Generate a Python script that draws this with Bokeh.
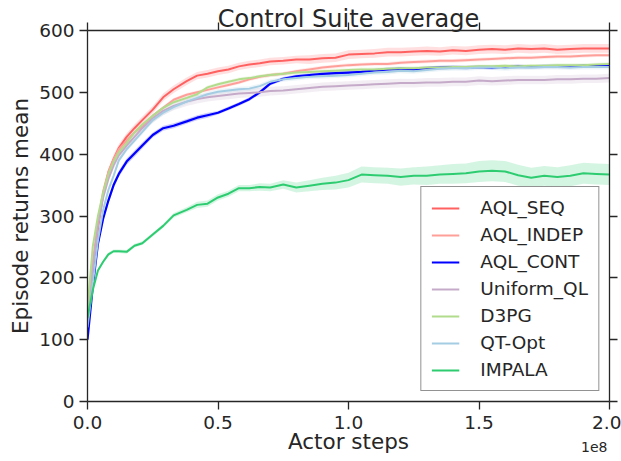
from bokeh.plotting import figure
from bokeh.models import (Range1d, LinearAxis, FixedTicker, Legend, LegendItem, Title,
                          CustomJSTickFormatter)
from bokeh.embed import file_html
from bokeh.resources import INLINE

# Actor steps (in units of 1e8)
steps = [0.0, 0.02, 0.04, 0.06, 0.08, 0.10, 0.12, 0.15, 0.18, 0.21, 0.25, 0.29, 0.33, 0.38,
         0.42, 0.46, 0.50, 0.54, 0.58, 0.62, 0.66, 0.70, 0.75, 0.80, 0.85, 0.90, 0.95, 1.00,
         1.05, 1.10, 1.15, 1.20, 1.25, 1.30, 1.35, 1.40, 1.45, 1.50, 1.55, 1.60, 1.65, 1.70,
         1.75, 1.80, 1.85, 1.90, 1.95, 2.00]

aql_seq = [130, 210, 280, 335, 370, 392, 410, 428, 442, 455, 472, 492, 505, 518,
           527, 530, 534, 537, 542, 545, 547, 550, 551, 553, 553, 555, 556, 561,
           562, 563, 565, 565, 566, 567, 566, 568, 567, 569, 570, 569, 571, 570,
           571, 569, 570, 571, 571, 571]
aql_seq_sd = [4, 6, 7, 7, 7, 7, 6, 6, 6, 6, 6, 6, 6, 6,
              6, 6, 6, 6, 6, 6, 6, 6, 6, 6, 7, 7, 7, 7,
              7, 7, 7, 7, 7, 7, 7, 7, 7, 7, 7, 7, 7, 7,
              7, 7, 7, 7, 7, 7]

aql_indep = [140, 225, 290, 340, 372, 392, 408, 422, 435, 445, 462, 475, 488, 496,
             500, 504, 508, 512, 516, 521, 525, 528, 530, 534, 537, 540, 542, 544,
             545, 546, 546, 548, 549, 550, 551, 551, 552, 553, 554, 555, 556, 556,
             557, 558, 558, 559, 560, 560]
aql_indep_sd = [3, 4, 4, 4, 4, 3, 3, 3, 3, 3, 3, 3, 3, 3,
                3, 3, 3, 3, 3, 3, 3, 3, 3, 3, 3, 3, 3, 3,
                3, 3, 3, 3, 3, 3, 3, 3, 3, 3, 3, 3, 3, 3,
                3, 3, 3, 3, 3, 3]

aql_cont = [100, 185, 255, 296, 325, 350, 368, 388, 401, 414, 431, 442, 446, 453,
            459, 463, 467, 474, 481, 489, 500, 514, 522, 526, 528, 530, 531, 532,
            533, 535, 537, 538, 537, 539, 540, 541, 540, 541, 540, 541, 542, 541,
            542, 542, 542, 543, 543, 543]
aql_cont_sd = [5, 6, 6, 6, 6, 5, 5, 5, 5, 5, 4, 4, 4, 4,
               4, 4, 3, 3, 3, 3, 3, 3, 3, 3, 3, 3, 3, 3,
               3, 3, 3, 3, 3, 3, 3, 3, 3, 3, 3, 3, 3, 3,
               3, 3, 3, 3, 3, 3]

uniform_ql = [125, 215, 285, 330, 360, 382, 398, 414, 428, 442, 458, 470, 478, 485,
              489, 492, 494, 496, 498, 499, 500, 502, 503, 505, 507, 509, 510, 511,
              512, 513, 514, 515, 515, 516, 516, 517, 517, 519, 518, 519, 520, 520,
              520, 521, 521, 522, 522, 523]
uniform_ql_sd = [5, 6, 6, 6, 6, 6, 6, 6, 6, 6, 7, 7, 7, 7,
                 7, 7, 7, 7, 7, 7, 7, 7, 7, 7, 7, 7, 7, 7,
                 7, 7, 7, 7, 7, 7, 7, 7, 7, 7, 7, 7, 7, 7,
                 7, 7, 7, 7, 7, 7]

d3pg = [150, 250, 300, 338, 368, 388, 403, 418, 435, 448, 462, 475, 484, 491,
        497, 508, 513, 517, 521, 523, 526, 528, 530, 532, 533, 534, 535, 536,
        537, 537, 538, 539, 539, 540, 540, 541, 541, 542, 542, 543, 542, 543,
        543, 544, 544, 544, 545, 546]
d3pg_sd = [3, 4, 4, 4, 3, 3, 3, 3, 3, 3, 3, 3, 3, 3,
           3, 3, 3, 3, 3, 3, 3, 3, 3, 3, 3, 3, 3, 3,
           3, 3, 3, 3, 3, 3, 3, 3, 3, 3, 3, 3, 3, 3,
           3, 3, 3, 3, 3, 3]

qt_opt = [120, 190, 260, 310, 342, 365, 390, 408, 422, 436, 455, 467, 476, 485,
          491, 497, 501, 503, 505, 506, 510, 517, 521, 523, 525, 526, 527, 528,
          530, 532, 533, 535, 534, 536, 538, 539, 539, 540, 540, 539, 540, 540,
          541, 541, 540, 541, 541, 541]
qt_opt_sd = [4, 5, 5, 5, 5, 4, 4, 4, 4, 4, 4, 4, 4, 4,
             4, 4, 4, 4, 4, 4, 4, 4, 4, 4, 4, 4, 4, 4,
             4, 4, 4, 4, 4, 4, 4, 4, 4, 4, 4, 4, 4, 4,
             4, 4, 4, 4, 4, 4]

impala = [135, 180, 212, 226, 238, 243, 243, 242, 252, 256, 270, 284, 301, 310,
          318, 320, 330, 336, 345, 345, 347, 346, 351, 346, 349, 352, 354, 358,
          367, 366, 365, 363, 365, 365, 367, 368, 369, 372, 373, 372, 366, 362,
          365, 363, 365, 369, 368, 367]
impala_sd = [3, 3, 3, 3, 3, 3, 3, 3, 3, 3, 3, 3, 4, 4,
             5, 5, 5, 5, 5, 5, 6, 6, 7, 8, 9, 10, 11, 12,
             13, 13, 13, 14, 14, 15, 15, 16, 16, 17, 17, 17, 17, 16,
             16, 16, 17, 17, 17, 17]

series_names = ["AQL_SEQ", "AQL_INDEP", "AQL_CONT", "Uniform_QL", "D3PG", "QT-Opt", "IMPALA"]
series_colors = ["#ff6161", "#ff9f9a", "#0000ff", "#c5abc9", "#b1dc8c", "#a4cde3", "#2ecc71"]
series_means = [aql_seq, aql_indep, aql_cont, uniform_ql, d3pg, qt_opt, impala]
series_sds = [aql_seq_sd, aql_indep_sd, aql_cont_sd, uniform_ql_sd, d3pg_sd, qt_opt_sd, impala_sd]

x_ticks = [0.0, 0.5, 1.0, 1.5, 2.0]
y_ticks = [0, 100, 200, 300, 400, 500, 600]

FONT = "DejaVu Sans"
INK = "#262626"

p = figure(width=621, height=461, output_backend="svg", toolbar_location=None,
           x_range=Range1d(0, 2.0), y_range=Range1d(0, 600),
           min_border_left=87, min_border_right=12, min_border_top=30, min_border_bottom=60)
p.xgrid.visible = False
p.ygrid.visible = False
p.outline_line_color = None
p.background_fill_color = "white"
p.border_fill_color = "white"

renderers = []
for name, col, m, sd in zip(series_names, series_colors, series_means, series_sds):
    lo = [a - b for a, b in zip(m, sd)]
    hi = [a + b for a, b in zip(m, sd)]
    p.varea(x=steps, y1=lo, y2=hi, fill_color=col, fill_alpha=0.2)
for name, col, m in zip(series_names, series_colors, series_means):
    r = p.line(steps, m, line_color=col, line_width=2.2 if name == "AQL_CONT" else 2.0)
    renderers.append(r)

def style_axis(ax, ticks, labels=True):
    ax.ticker = FixedTicker(ticks=ticks)
    ax.axis_line_color = INK
    ax.axis_line_width = 1.3
    ax.major_tick_line_color = INK
    ax.major_tick_line_width = 1.3
    ax.major_tick_out = 8
    ax.major_tick_in = 0
    ax.minor_tick_out = 0
    ax.minor_tick_in = 0
    ax.major_label_text_font = FONT
    ax.major_label_text_color = INK
    ax.axis_label_text_font = FONT
    ax.axis_label_text_color = INK
    ax.axis_label_text_font_style = "normal"
    if labels:
        ax.major_label_text_font_size = "18.5px"
        ax.major_label_standoff = 5
    else:
        ax.formatter = CustomJSTickFormatter(code="return '';")
        ax.major_label_text_font_size = "0px"
        ax.major_label_standoff = 0

# bottom axis
xa = p.xaxis[0]
style_axis(xa, x_ticks)
xa.formatter = CustomJSTickFormatter(code="return tick.toFixed(1);")
xa.major_label_standoff = 6
xa.axis_label = "Actor steps"
xa.axis_label_text_font_size = "21.5px"
xa.axis_label_standoff = -3

# left axis
ya = p.yaxis[0]
style_axis(ya, y_ticks)
ya.axis_label = "Episode returns mean"
ya.axis_label_text_font_size = "21.5px"
ya.axis_label_standoff = 3

# top axis carries the title
top_ax = LinearAxis()
style_axis(top_ax, x_ticks, labels=False)
top_ax.axis_label = "Control Suite average"
top_ax.axis_label_text_font_size = "24px"
top_ax.axis_label_standoff = -10
p.add_layout(top_ax, "above")

right_ax = LinearAxis()
style_axis(right_ax, y_ticks, labels=False)
p.add_layout(right_ax, "right")

# offset text of the x axis
p.add_layout(Title(text="1e8", align="right", vertical_align="top", text_font=FONT,
                   text_font_size="14px", text_color=INK, text_font_style="normal",
                   standoff=-30, offset=2), "below")

legend = Legend(items=[LegendItem(label=n, renderers=[r]) for n, r in zip(series_names, renderers)],
                location="bottom_right")
legend.label_text_font = FONT
legend.label_text_font_size = "18.5px"
legend.label_text_color = INK
legend.glyph_width = 28
legend.glyph_height = 20
legend.label_height = 20
legend.label_standoff = 21
legend.spacing = 6
legend.padding = 10
legend.margin = 10
legend.border_line_color = INK
legend.border_line_width = 1.3
legend.background_fill_color = "white"
legend.background_fill_alpha = 1.0
p.add_layout(legend, "center")

open("out.html", "w").write(file_html(p, INLINE))
